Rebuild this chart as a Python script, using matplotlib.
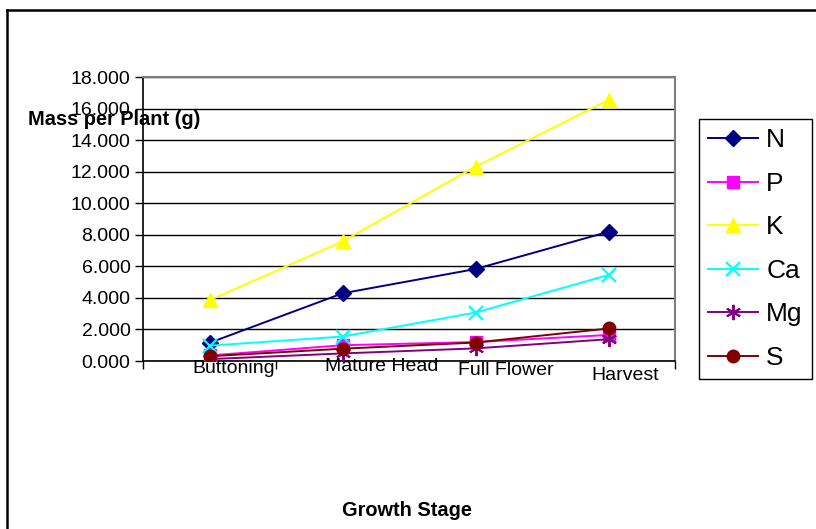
import matplotlib
matplotlib.use("Agg")
import matplotlib.pyplot as plt
from matplotlib.lines import Line2D
import numpy as np

plt.rcParams['font.family'] = ['Liberation Sans', 'DejaVu Sans']

stages = ["Buttoning", "Mature Head", "Full Flower", "Harvest"]
N = [1.15, 4.29, 5.83, 8.19]
P = [0.35, 1.00, 1.20, 1.65]
K = [3.85, 7.58, 12.32, 16.55]
Ca = [0.97, 1.55, 3.07, 5.45]
Mg = [0.12, 0.48, 0.80, 1.38]
S = [0.30, 0.78, 1.17, 2.06]
y_ticks = [0, 2, 4, 6, 8, 10, 12, 14, 16, 18]

series = [
    ("N", N, "#000080", "D", 8, 1.0),
    ("P", P, "#FF00FF", "s", 8, 1.0),
    ("K", K, "#FFFF00", "^", 10, 1.0),
    ("Ca", Ca, "#00FFFF", "x", 10, 1.6),
    ("Mg", Mg, "#800080", (6, 2, 0), 11, 1.4),
    ("S", S, "#800000", "o", 9, 1.0),
]

fig = plt.figure(figsize=(8.16, 5.29), dpi=100)
ax = fig.add_axes([143 / 816, 1 - 361 / 529, 532 / 816, 284 / 529])

x = np.arange(len(stages))
handles = []
for name, vals, color, marker, ms, mew in series:
    h, = ax.plot(x, vals, color=color, linewidth=1.4, marker=marker,
                 markersize=ms, markerfacecolor=color, markeredgecolor=color,
                 markeredgewidth=mew, label=name, zorder=3)
    handles.append(h)

ax.set_xlim(-0.5, len(stages) - 0.5)
ax.set_ylim(0, 18)
ax.set_yticks(y_ticks)
ax.set_yticklabels([f"{v:.3f}" for v in y_ticks], fontsize=14)
ax.yaxis.grid(True, color="black", linewidth=1.0)
ax.set_axisbelow(True)
ax.tick_params(axis="y", direction="out", length=6, width=1, pad=3)

# boundary ticks on the category axis; labels are placed as text
ax.set_xticks([-0.5, 0.5, len(stages) - 0.5])
ax.set_xticklabels([])
ax.tick_params(axis="x", direction="out", length=6, width=1)
label_offsets = [0.028, 0.018, 0.032, 0.050]
for xi, lab, off in zip(x, stages, label_offsets):
    ax.text(xi - 0.132, -off, lab, transform=ax.get_xaxis_transform(),
            ha="left", va="center", fontsize=14, zorder=1)

for side in ("top", "right"):
    ax.spines[side].set_color("#808080")
    ax.spines[side].set_linewidth(1.5)
for side in ("left", "bottom"):
    ax.spines[side].set_color("black")
    ax.spines[side].set_linewidth(1.2)

fig.text(114 / 816, 1 - 120 / 529, "Mass per Plant (g)", fontsize=14.4,
         fontweight="bold", ha="center", va="center", zorder=6)
fig.text(407 / 816, 1 - 510 / 529, "Growth Stage", fontsize=14.4,
         fontweight="bold", ha="center", va="center")

leg = fig.legend(handles=handles, loc="upper left",
                 bbox_to_anchor=(699 / 816, 1 - 119 / 529),
                 fontsize=19, frameon=True, fancybox=False, framealpha=1,
                 edgecolor="black", handlelength=1.9, handletextpad=0.3,
                 borderpad=0.35, labelspacing=0.74, borderaxespad=0)
leg.get_frame().set_linewidth(1.0)

# outer chart border
fig.add_artist(Line2D([7 / 816, 7 / 816], [0, 1 - 10 / 529], color="black",
                      linewidth=1.8, transform=fig.transFigure))
fig.add_artist(Line2D([7 / 816, 1], [1 - 10 / 529, 1 - 10 / 529], color="black",
                      linewidth=1.8, transform=fig.transFigure))

fig.savefig("out.png", dpi=100)
